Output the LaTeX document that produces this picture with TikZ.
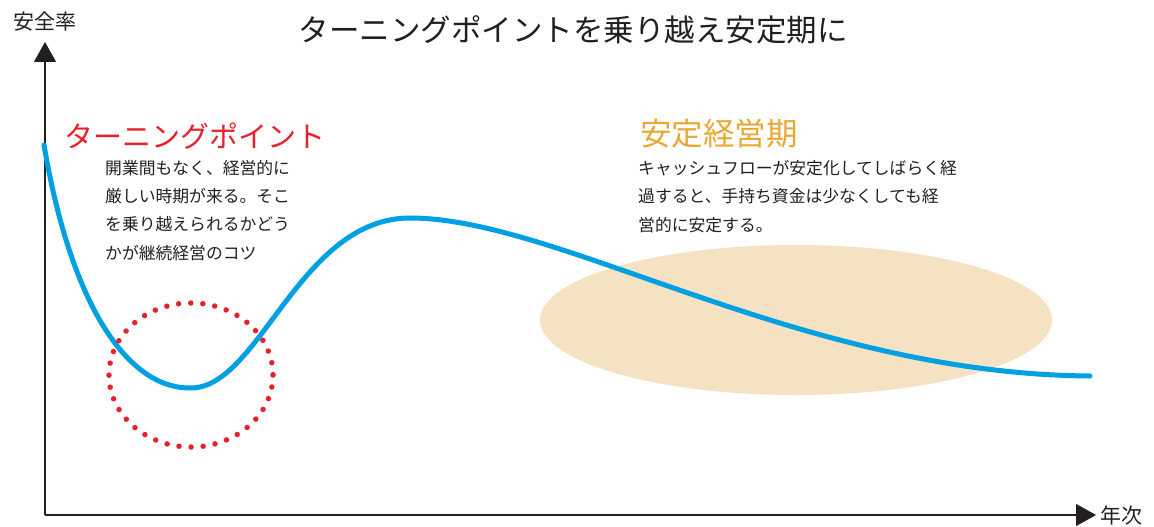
\documentclass[tikz,border=0pt]{standalone}
\usepackage{fontspec}
\newfontfamily\jpfont{Noto Sans CJK JP}
\usetikzlibrary{arrows.meta}
\definecolor{curveblue}{HTML}{00A0E2}
\definecolor{turnred}{HTML}{E8202A}
\definecolor{stableorange}{HTML}{E9A733}
\definecolor{stablefill}{HTML}{F5E2C2}
\definecolor{textgray}{HTML}{231F20}

\begin{document}
\begin{tikzpicture}[x=1pt, y=-1pt, >={Triangle[width=22pt,length=20pt]},
  axis/.style={->, line width=1.1pt, textgray},
  axislabel/.style={font=\jpfont\fontsize{21}{21}\selectfont, textgray, inner sep=0pt},
  body/.style={font=\jpfont\fontsize{16.8}{28.3}\selectfont, textgray, align=left, anchor=north west, inner sep=0pt}]
  \useasboundingbox (0,0) rectangle (1154,527);

  % Stable period area
  \fill[stablefill] (796,320) ellipse [x radius=256, y radius=75];

  % Axes
  \coordinate (origin) at (45,515);
  \coordinate (ytop) at (45,42);
  \coordinate (xend) at (1096,515);
  \draw[axis] (origin) -- (ytop);
  \draw[axis] (origin) -- (xend);
  \node[axislabel] (ylabel) at (45,22) {安全率};
  \node[axislabel, anchor=west] (xlabel) at (1100,515) {年次};

  % Title
  \node[font=\jpfont\fontsize{30.5}{30.5}\selectfont, textgray] (title) at (573,30) {ターニングポイントを乗り越え安定期に};

  % Safety curve
  \draw[curveblue, line width=5pt, line cap=round]
    (44,145) .. controls (72,310) and (130,390) .. (192,388)
    .. controls (260,386) and (300,218) .. (410,218)
    .. controls (560,218) and (800,374) .. (1090,376);

  % Turning point marker
  \draw[turnred, line width=5.5pt, line cap=round, dash pattern=on 0pt off 12.1pt]
    (191,375) ellipse [x radius=82, y radius=72];

  % Turning point text
  \node[font=\jpfont\fontsize{29}{29}\selectfont, turnred, anchor=west, inner sep=0pt] (turn) at (64,136) {ターニングポイント};
  \node[body] (turntext) at (105,160) {開業間もなく、経営的に\\厳しい時期が来る。そこ\\を乗り越えられるかどう\\かが継続経営のコツ};

  % Stable period text
  \node[font=\jpfont\fontsize{31.5}{31.5}\selectfont, stableorange, anchor=west, inner sep=0pt] (stable) at (640,134) {安定経営期};
  \node[body] (stabletext) at (638,160) {キャッシュフローが安定化してしばらく経\\過すると、手持ち資金は少なくしても経\\営的に安定する。};
\end{tikzpicture}
\end{document}
